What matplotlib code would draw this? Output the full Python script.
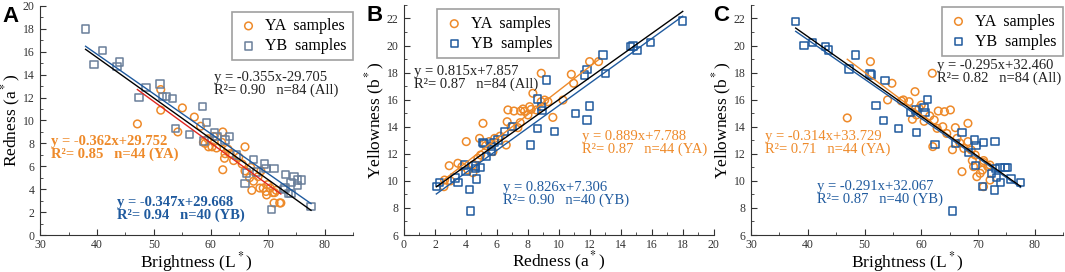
"""Figura de tres paneles: brillo, rojez y amarillez"""
import matplotlib.pyplot as plt
from matplotlib.ticker import MultipleLocator

plt.rcParams['font.family'] = ['Liberation Serif', 'DejaVu Serif']
plt.rcParams['mathtext.fontset'] = 'stix'

NARANJA = '#EE8A2A'
AZUL = '#1F5A9E'
ROJO = '#E0261E'

# Panel A: L* vs a*
A_YA_X = [47.1, 51.2, 51.2, 55.0, 54.2, 57.1, 58.2, 58.7, 59.0, 59.5, 60.2, 59.6,
          61.9, 62.1, 62.1, 62.4, 62.5, 63.4, 66.0, 64.9, 66.0, 67.5, 68.3, 68.6,
          69.2, 69.7, 69.8, 70.4, 70.9, 71.2, 71.1, 72.1, 72.3, 67.2, 63.0, 65.5,
          67.0, 68.8, 70.0, 71.5, 60.5, 61.0, 64.0, 66.8]
A_YA_Y = [9.7, 12.7, 10.9, 11.1, 9.0, 10.3, 9.5, 8.1, 8.0, 8.4, 7.7, 7.7,
          8.1, 9.0, 5.7, 6.7, 7.1, 7.1, 7.7, 6.8, 5.6, 4.7, 5.1, 4.1,
          4.1, 3.8, 3.5, 4.1, 3.7, 3.7, 2.8, 2.8, 2.8, 3.9, 7.5, 6.2,
          5.9, 5.6, 4.4, 3.9, 8.6, 7.6, 6.5, 5.0]
A_YB_X = [38.0, 41.0, 39.5, 43.9, 43.5, 47.4, 48.6, 51.1, 51.5, 52.2, 53.3, 53.8,
          56.3, 58.5, 59.2, 60.7, 61.1, 62.5, 66.0, 66.3, 67.5, 69.4, 69.7, 71.1,
          70.6, 73.1, 73.0, 73.6, 74.1, 74.6, 75.2, 75.9, 75.2, 74.1, 77.6, 63.3,
          58.8, 64.5, 68.0, 72.8]
A_YB_Y = [18.0, 16.1, 14.9, 15.1, 14.7, 12.0, 12.9, 13.2, 12.1, 12.1, 11.9, 9.3,
          8.8, 11.2, 9.8, 8.9, 8.6, 8.3, 4.5, 5.4, 6.6, 6.2, 5.8, 5.8,
          2.2, 5.3, 4.1, 3.6, 4.6, 5.1, 4.8, 4.8, 4.3, 3.6, 2.5, 8.6,
          8.2, 7.0, 5.5, 4.0]

# Panel B: a* vs b*
B_YA_X = [2.92, 2.58, 2.62, 3.48, 4.02, 3.74, 4.13, 4.45, 4.77, 4.88, 5.10, 4.95,
          4.45, 5.27, 5.74, 5.85, 6.60, 6.71, 6.66, 6.92, 7.10, 7.35, 7.53, 7.68,
          7.78, 8.00, 8.11, 8.32, 8.21, 8.54, 8.86, 8.86, 9.08, 9.29, 9.61, 10.26,
          10.80, 10.95, 11.98, 12.56, 3.00, 7.50, 5.50, 6.20]
B_YA_Y = [11.12, 9.57, 10.06, 11.30, 12.90, 11.05, 10.80, 11.17, 11.67, 13.14, 14.25, 11.91,
          10.60, 12.60, 12.16, 13.14, 12.65, 15.24, 14.37, 14.00, 15.16, 13.93, 15.16, 15.31,
          15.14, 14.87, 15.48, 16.47, 15.28, 15.24, 17.95, 15.85, 15.97, 15.85, 14.69, 15.97,
          17.87, 17.21, 18.81, 18.81, 10.00, 14.30, 12.90, 13.30]
B_YB_X = [2.09, 2.30, 3.48, 3.91, 4.24, 4.28, 4.60, 4.60, 4.67, 4.95, 5.10, 5.16,
          5.31, 5.63, 5.81, 6.06, 6.49, 5.63, 8.17, 8.60, 8.60, 8.86, 8.90, 9.20,
          9.72, 11.05, 11.65, 11.82, 11.82, 11.99, 12.84, 13.01, 14.62, 14.77, 15.05, 15.91,
          17.99, 4.00, 7.00, 3.30]
B_YB_Y = [9.57, 9.87, 9.87, 11.17, 9.37, 7.77, 11.10, 10.93, 10.14, 10.98, 12.85, 12.77,
          11.79, 12.53, 12.85, 13.02, 13.64, 12.16, 12.65, 16.05, 13.88, 15.48, 15.19, 17.45,
          13.64, 14.99, 17.82, 18.24, 14.50, 15.53, 19.30, 17.95, 19.92, 19.97, 19.62, 20.24,
          21.80, 10.70, 14.00, 10.20]

# Panel C: L* vs b*
C_YA_X = [46.96, 51.04, 54.83, 54.07, 56.86, 57.86, 58.90, 58.44, 59.15, 59.62, 61.95, 63.00,
          64.10, 65.14, 62.28, 62.04, 62.80, 66.01, 66.31, 68.23, 67.18, 68.23, 68.81, 69.51,
          69.22, 69.80, 70.38, 70.79, 70.97, 71.73, 72.13, 70.97, 72.10, 60.50, 64.50, 67.50,
          71.00, 63.80, 66.80, 60.00, 69.00, 65.50, 61.50, 56.50]
C_YA_Y = [14.65, 18.81, 17.21, 15.98, 15.98, 15.85, 16.59, 14.55, 14.87, 15.36, 17.95, 15.16,
          15.11, 15.24, 14.50, 12.53, 13.88, 13.93, 13.14, 14.25, 10.68, 12.90, 12.28, 11.91,
          11.05, 10.31, 10.56, 10.80, 11.35, 11.05, 10.06, 9.57, 11.17, 14.40, 13.50, 12.40,
          11.50, 14.00, 12.80, 15.60, 11.50, 12.30, 14.80, 15.90]
C_YB_X = [37.87, 39.32, 40.78, 43.17, 43.69, 47.25, 48.41, 50.98, 51.27, 52.03, 53.31, 53.60,
          55.99, 58.15, 59.03, 59.15, 60.49, 60.66, 61.07, 62.41, 66.02, 65.55, 67.18, 68.34,
          69.33, 69.63, 69.51, 70.97, 70.79, 72.99, 72.89, 72.42, 73.12, 73.88, 74.76, 75.23,
          73.30, 73.94, 75.80, 77.49]
C_YB_Y = [21.76, 19.99, 20.24, 19.92, 19.67, 18.27, 19.30, 17.90, 17.82, 15.56, 14.45, 17.40,
          13.88, 15.04, 15.24, 13.59, 15.43, 15.06, 16.02, 12.70, 12.77, 7.77, 13.59, 12.09,
          13.02, 12.60, 11.12, 12.85, 9.57, 12.92, 9.33, 10.56, 10.93, 10.98, 10.98, 10.98,
          10.26, 9.87, 10.14, 9.87]

# Coeficientes de las rectas (pendiente, ordenada) para YA, YB y todos
A_AJUSTES = [(-0.362, 29.752), (-0.347, 29.668), (-0.355, 29.705)]
B_AJUSTES = [(0.889, 7.788), (0.826, 7.306), (0.815, 7.857)]
C_AJUSTES = [(-0.314, 33.729), (-0.291, 32.067), (-0.295, 32.460)]

A_TEXTOS = ['y = -0.362x+29.752\nR²= 0.85   n=44 (YA)',
            'y = -0.347x+29.668\nR²= 0.94   n=40 (YB)',
            'y = -0.355x-29.705\nR²= 0.90   n=84 (All)']
B_TEXTOS = ['y = 0.889x+7.788\nR²= 0.87   n=44 (YA)',
            'y = 0.826x+7.306\nR²= 0.90   n=40 (YB)',
            'y = 0.815x+7.857\nR²= 0.87   n=84 (All)']
C_TEXTOS = ['y = -0.314x+33.729\nR²= 0.71   n=44 (YA)',
            'y = -0.291x+32.067\nR²= 0.87   n=40 (YB)',
            'y = -0.295x+32.460\nR²= 0.82   n=84 (All)']


def recta(ax, xs, ajuste, color, lw=1.0):
    """Dibuja la recta de ajuste sobre el rango de los datos"""
    x0, x1 = min(xs), max(xs)
    m, b = ajuste
    ax.plot([x0, x1], [m * x0 + b, m * x1 + b], color=color, lw=lw, zorder=3)


def panel(ax, ya_x, ya_y, yb_x, yb_y, ajustes, textos, pos_textos, negrita,
          color_cuad, color_ya_linea, letra, xlabel, ylabel, legend_pos):
    """Un panel de dispersion con sus rectas"""
    ax.scatter(ya_x, ya_y, s=30, marker='o', facecolors='none',
               edgecolors=NARANJA, linewidths=1.1, zorder=2, label='YA  samples')
    ax.scatter(yb_x, yb_y, s=28, marker='s', facecolors='none',
               edgecolors=color_cuad, linewidths=1.1, zorder=2, label='YB  samples')
    recta(ax, ya_x, ajustes[0], color_ya_linea)
    recta(ax, yb_x, ajustes[1], AZUL)
    recta(ax, yb_x, ajustes[2], 'black')
    # solo las ecuaciones de YA y YB van en negrita en el panel A
    pesos = ['bold', 'bold', 'normal'] if negrita else ['normal'] * 3
    colores = [NARANJA, AZUL, '#222222']
    for texto, pos, col, peso in zip(textos, pos_textos, colores, pesos):
        ax.text(pos[0], pos[1], texto, color=col, fontsize=10.5, fontweight=peso,
                va='center', ha='left', linespacing=0.95, zorder=4)
    ley = ax.legend(loc='upper right', bbox_to_anchor=legend_pos, fontsize=11.5,
                    frameon=True, fancybox=False, edgecolor='#888888',
                    handletextpad=0.4, borderpad=0.4, labelspacing=0.25,
                    handlelength=1.3, borderaxespad=0)
    ley.get_frame().set_linewidth(1.2)
    for s in ['top', 'right']:
        ax.spines[s].set_visible(False)
    for s in ['left', 'bottom']:
        ax.spines[s].set_color('#333333')
    ax.tick_params(which='both', direction='in', labelsize=8.5,
                   labelcolor='#333333', color='#333333')
    ax.tick_params(axis='x', pad=3)
    ax.tick_params(axis='y', pad=4)
    ax.tick_params(which='major', length=4)
    ax.tick_params(which='minor', length=2)
    ax.set_xlabel(xlabel, fontsize=12.5, labelpad=-1)
    ax.set_ylabel(ylabel, fontsize=12.5, labelpad=0)
    ax.text(-0.12, 1.0, letra, transform=ax.transAxes, fontsize=16,
            fontweight='bold', family='Liberation Sans', va='top', ha='left')


fig = plt.figure(figsize=(10.65, 2.72), dpi=100)
ax_a = fig.add_axes([0.0376, 0.136, 0.294, 0.842])
ax_b = fig.add_axes([0.3793, 0.136, 0.291, 0.846])
ax_c = fig.add_axes([0.7052, 0.136, 0.293, 0.846])

panel(ax_a, A_YA_X, A_YA_Y, A_YB_X, A_YB_Y, A_AJUSTES, A_TEXTOS,
      [(32.0, 7.6), (43.6, 2.3), (60.6, 13.2)], True, '#6A7F9A', ROJO,
      'A', r'Brightness (L$^*$)', r'Redness (a$^*$)', (1.0, 0.975))
ax_a.set_xlim(30, 85)
ax_a.set_ylim(0, 20)
ax_a.xaxis.set_major_locator(MultipleLocator(10))
ax_a.xaxis.set_minor_locator(MultipleLocator(5))
ax_a.yaxis.set_major_locator(MultipleLocator(2))
ax_a.yaxis.set_minor_locator(MultipleLocator(1))

panel(ax_b, B_YA_X, B_YA_Y, B_YB_X, B_YB_Y, B_AJUSTES, B_TEXTOS,
      [(11.5, 12.8), (6.4, 9.0), (0.65, 17.6)], False, AZUL, NARANJA,
      'B', r'Redness (a$^*$)', r'Yellowness (b$^*$)', (0.5, 0.98))
ax_b.set_xlim(0, 20)
ax_b.set_ylim(6, 23)
ax_b.xaxis.set_major_locator(MultipleLocator(2))
ax_b.xaxis.set_minor_locator(MultipleLocator(1))
ax_b.yaxis.set_major_locator(MultipleLocator(2))
ax_b.yaxis.set_minor_locator(MultipleLocator(1))

panel(ax_c, C_YA_X, C_YA_Y, C_YB_X, C_YB_Y, C_AJUSTES, C_TEXTOS,
      [(32.5, 12.8), (41.6, 9.1), (62.7, 18.05)], False, AZUL, NARANJA,
      'C', r'Brightness (L$^*$)', r'Yellowness (b$^*$)', (1.0, 0.99))
ax_c.set_xlim(30, 85)
ax_c.set_ylim(6, 23)
ax_c.xaxis.set_major_locator(MultipleLocator(10))
ax_c.xaxis.set_minor_locator(MultipleLocator(5))
ax_c.yaxis.set_major_locator(MultipleLocator(2))
ax_c.yaxis.set_minor_locator(MultipleLocator(1))

fig.savefig('out.png', dpi=100)
